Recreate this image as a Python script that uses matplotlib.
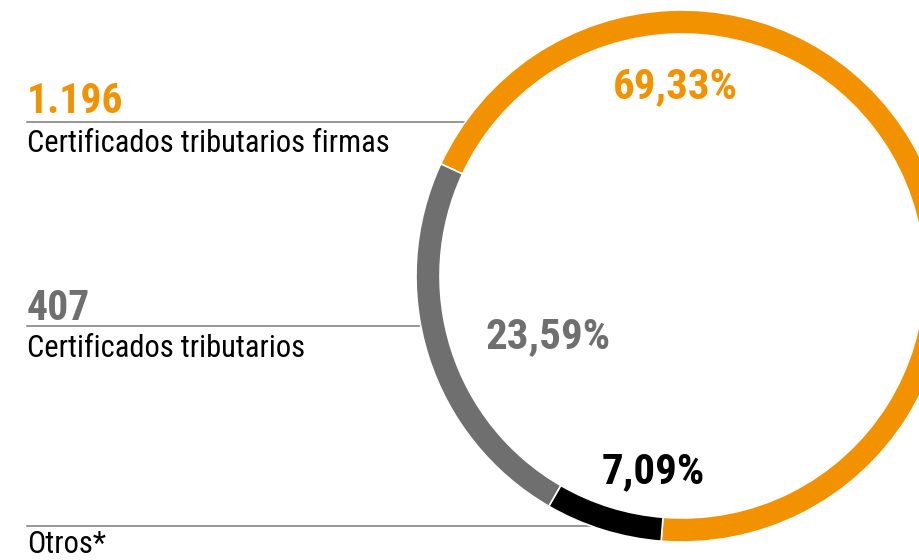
import matplotlib
matplotlib.use("Agg")
import matplotlib.pyplot as plt
import math

# datos
shares = [69.33, 23.59, 7.09]
pct_labels = ["69,33%", "23,59%", "7,09%"]
amounts = ["1.196", "407", ""]
names = ["Certificados tributarios firmas", "Certificados tributarios", "Otros*"]
colors = ["#F39200", "#6F6F6F", "#000000"]

plt.rcParams['font.family'] = ['Roboto Condensed', 'Archivo Narrow', 'DejaVu Sans']

W, H = 919, 560
fig = plt.figure(figsize=(W/100, H/100), dpi=100)
ax = fig.add_axes([0, 0, 1, 1])

cx, cy, R = 682, H-276, 266  # centro del anillo (y hacia arriba)
ax.pie(shares, colors=colors, startangle=265.5, counterclock=True,
       radius=R, center=(cx, cy),
       wedgeprops=dict(width=24, edgecolor="white", linewidth=1.2))

# textos a la izquierda y lineas
line_y = [122, 326, 526]
amt_base = [113, 320, None]
name_base = [152, 357, 553]
for i in range(3):
    y = H - line_y[i]
    dy = abs(y - cy)
    x_end = cx - math.sqrt(R**2 - dy**2)
    ax.plot([27, x_end], [y, y], color="#7a7a7a", lw=1.1, zorder=0)
    if amounts[i]:
        ax.text(27, H - amt_base[i], amounts[i], color=colors[i], fontsize=30,
                fontweight="bold", va="baseline", ha="left")
    ax.text(27, H - name_base[i], names[i], color="black", fontsize=22,
            va="baseline", ha="left")

# porcentajes
pct_pos = [(675, 98), (548, 348), (653, 483)]
for i in range(3):
    ax.text(pct_pos[i][0], H - pct_pos[i][1], pct_labels[i], color=colors[i],
            fontsize=31, fontweight="bold", va="baseline", ha="center")

ax.set_xlim(0, W)
ax.set_ylim(0, H)
ax.set_aspect("equal")
ax.axis("off")

fig.savefig("out.png", dpi=100)
